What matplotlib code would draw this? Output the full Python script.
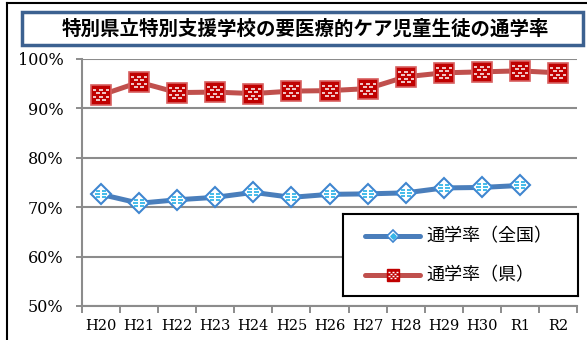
import matplotlib
matplotlib.use("Agg")
import matplotlib.pyplot as plt
from matplotlib.path import Path
from matplotlib.patches import Rectangle
from matplotlib.lines import Line2D
import numpy as np

# data
years = ['H20', 'H21', 'H22', 'H23', 'H24', 'H25', 'H26', 'H27', 'H28', 'H29', 'H30', 'R1', 'R2']
national = [72.6, 70.8, 71.5, 72.0, 73.0, 72.0, 72.6, 72.7, 72.9, 73.9, 74.0, 74.4]
prefecture = [92.7, 95.3, 93.2, 93.3, 93.0, 93.5, 93.6, 94.0, 96.4, 97.2, 97.4, 97.6, 97.2]

title = '特別県立特別支援学校の要医療的ケア児童生徒の通学率'
label_nat = '通学率（全国）'
label_pref = '通学率（県）'

blue = '#4a7ebb'
red = '#c0504d'
jp_font = ['Noto Sans CJK JP', 'DejaVu Sans']
num_font = 'DejaVu Serif'


def dash_path(rows):
    # small dashes used as the pattern inside the markers
    verts, codes = [], []
    for y, segs in rows:
        for x0, x1 in segs:
            verts += [(x0, y), (x1, y)]
            codes += [Path.MOVETO, Path.LINETO]
    return Path(verts, codes)


brick = dash_path([
    (-0.55, [(-0.55, -0.15), (0.15, 0.55)]),
    (-0.18, [(-0.85, -0.5), (-0.2, 0.2), (0.5, 0.85)]),
    (0.18, [(-0.55, -0.15), (0.15, 0.55)]),
    (0.55, [(-0.85, -0.5), (-0.2, 0.2), (0.5, 0.85)]),
])
stripes = dash_path([
    (-0.3, [(-0.5, -0.05), (0.05, 0.5)]),
    (0.0, [(-0.6, -0.1), (0.1, 0.6)]),
    (0.3, [(-0.5, -0.05), (0.05, 0.5)]),
])

fig = plt.figure(figsize=(5.87, 3.4), dpi=100)

# outer frame (only top and left edge visible in crop)
fig.add_artist(Line2D([7 / 587, 1], [1 - 3 / 340, 1 - 3 / 340], color='black', lw=1.5, transform=fig.transFigure))
fig.add_artist(Line2D([7 / 587, 7 / 587], [0, 1 - 3 / 340], color='black', lw=1.5, transform=fig.transFigure))

# title box
fig.add_artist(Rectangle((22 / 587, 1 - 45 / 340), 561 / 587, 33 / 340, transform=fig.transFigure,
                         facecolor='white', edgecolor='#3c6190', lw=2.5))
fig.text(305 / 587, 1 - 29 / 340, title, ha='center', va='center', fontsize=14,
         fontweight='bold', family=jp_font)

ax = fig.add_axes([82 / 587, 1 - 306 / 340, 495 / 587, 247 / 340])
x = np.arange(len(years))

ax.plot(x[:len(national)], national, color=blue, lw=3.6, marker='D', markersize=10.5,
        markerfacecolor='white', markeredgecolor='#3f86d0', markeredgewidth=1.5, zorder=3)
ax.plot(x[:len(national)], national, ls='none', marker=stripes, markersize=9,
        markeredgecolor='#35b5e8', markeredgewidth=1.3, zorder=4)
ax.plot(x, prefecture, color=red, lw=3.6, marker='s', markersize=14,
        markerfacecolor='#c00000', markeredgecolor='#d86060', markeredgewidth=1.2, zorder=3)
ax.plot(x, prefecture, ls='none', marker=brick, markersize=12.2,
        markeredgecolor='white', markeredgewidth=1.1, zorder=4)

ax.set_xlim(-0.5, len(years) - 0.5)
ax.set_ylim(50, 100)
ax.set_yticks(np.arange(50, 101, 10))
ax.set_yticklabels([f'{v}%' for v in range(50, 101, 10)], fontsize=11.5, family=num_font)
ax.set_xticks(x)
ax.set_xticklabels(years, fontsize=10.5, family=num_font)
ax.set_xticks(np.arange(-0.5, len(years), 1), minor=True)
ax.tick_params(axis='x', which='major', length=0, pad=9)
ax.tick_params(axis='x', which='minor', length=5, width=1.4, color='#8c8c8c')
ax.tick_params(axis='y', length=4.3, width=1.4, color='#8c8c8c', pad=9)
ax.grid(axis='y', color='#8c8c8c', lw=1.5)
ax.set_axisbelow(True)
for s in ['top', 'right']:
    ax.spines[s].set_visible(False)
for s in ['left', 'bottom']:
    ax.spines[s].set_color('#8c8c8c')
    ax.spines[s].set_linewidth(1.5)

# legend box
lax = fig.add_axes([343 / 587, 1 - 296 / 340, 235 / 587, 82 / 340])
lax.set_xlim(0, 235)
lax.set_ylim(82, 0)
lax.set_xticks([])
lax.set_yticks([])
for s in lax.spines.values():
    s.set_color('black')
    s.set_linewidth(1.5)
for yy, lab, c, mk in [(22, label_nat, blue, 'n'), (61, label_pref, red, 'p')]:
    lax.plot([22, 77], [yy, yy], color=c, lw=3.6, solid_capstyle='round')
    if mk == 'n':
        lax.plot([50], [yy], marker='D', markersize=6.5, markerfacecolor='white',
                 markeredgecolor='#3f86d0', markeredgewidth=1.2)
        lax.plot([50], [yy], marker='D', markersize=2.8, color='#35b5e8')
    else:
        lax.plot([50], [yy], marker='s', markersize=9, markerfacecolor='#c00000',
                 markeredgecolor='#c00000')
        lax.plot([50], [yy], marker=brick, markersize=6.5, markeredgecolor='white', markeredgewidth=1)
    lax.text(83, yy, lab, va='center', ha='left', fontsize=13, family=jp_font)

fig.savefig('out.png', dpi=100)
